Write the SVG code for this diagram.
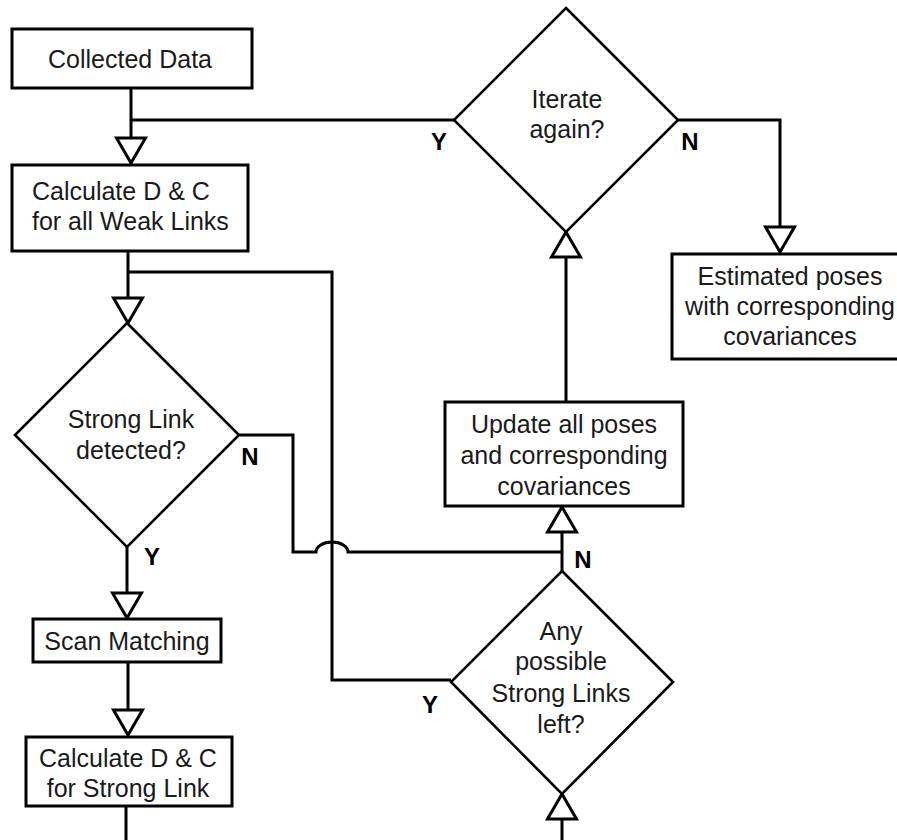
<svg xmlns="http://www.w3.org/2000/svg" width="897" height="840" viewBox="0 0 897 840">
<style>
.box{fill:#fff;stroke:#000;stroke-width:3}
.dia{fill:#fff;stroke:#000;stroke-width:2.6}
.ln{fill:none;stroke:#000;stroke-width:3}
.t{font-family:"Liberation Sans",Arial,sans-serif;font-size:25px;fill:#1a1a1a;text-anchor:middle}
.lb{font-family:"Liberation Sans",Arial,sans-serif;font-size:24px;font-weight:bold;fill:#000;text-anchor:middle}
</style>
<defs>
<marker id="tri" markerUnits="userSpaceOnUse" markerWidth="34" markerHeight="36" refX="27" refY="16" orient="auto" overflow="visible">
<path d="M2,1.5 L27,16 L2,30.5 Z" fill="#fff" stroke="#000" stroke-width="3" stroke-linejoin="miter"/>
</marker>
</defs>
<rect width="897" height="840" fill="#fff"/>
<g id="connectors">
<path class="ln" d="M131,88 V163" marker-end="url(#tri)"/>
<path class="ln" d="M454,120 H131"/>
<path class="ln" d="M678,120 H780 V252" marker-end="url(#tri)"/>
<path class="ln" d="M128,251 V323" marker-end="url(#tri)"/>
<path class="ln" d="M128,272 H332 V680 H451"/>
<path class="ln" d="M239,435 H293 V552 H316 A16 10 0 0 1 348,552 H562"/>
<path class="ln" d="M562,571 V507" marker-end="url(#tri)"/>
<path class="ln" d="M566,402 V232" marker-end="url(#tri)"/>
<path class="ln" d="M127,547 V618" marker-end="url(#tri)"/>
<path class="ln" d="M128,662 V735" marker-end="url(#tri)"/>
<path class="ln" d="M126,806 V842"/>
<path class="ln" d="M562,842 V794" marker-end="url(#tri)"/>
</g>
<g id="collected">
<rect class="box" x="12" y="29" width="240" height="59"/>
<text class="t" x="130" y="68">Collected Data</text>
</g>
<g id="calc-weak">
<rect class="box" x="12" y="165" width="236" height="86"/>
<text class="t" x="32" y="200" style="text-anchor:start">Calculate D &amp; C</text>
<text class="t" x="32" y="230" style="text-anchor:start">for all Weak Links</text>
</g>
<g id="iterate">
<polygon class="dia" points="566,8 678,120 566,232 454,120"/>
<text class="t" x="567" y="108">Iterate</text>
<text class="t" x="567" y="138">again?</text>
<text class="lb" x="439" y="150">Y</text>
<text class="lb" x="690" y="150">N</text>
</g>
<g id="estimated">
<rect class="box" x="672" y="254" width="232" height="105"/>
<text class="t" x="790" y="285">Estimated poses</text>
<text class="t" x="790" y="315">with corresponding</text>
<text class="t" x="790" y="345">covariances</text>
</g>
<g id="strong-detected">
<polygon class="dia" points="127,323 239,435 127,547 15,435"/>
<text class="t" x="131" y="428">Strong Link</text>
<text class="t" x="131" y="459">detected?</text>
<text class="lb" x="250" y="465">N</text>
<text class="lb" x="152" y="565">Y</text>
</g>
<g id="update">
<rect class="box" x="445" y="402" width="238" height="104"/>
<text class="t" x="564" y="433">Update all poses</text>
<text class="t" x="564" y="464">and corresponding</text>
<text class="t" x="564" y="495">covariances</text>
</g>
<g id="any-left">
<polygon class="dia" points="562,571 673,682 562,794 451,682"/>
<text class="t" x="561" y="640">Any</text>
<text class="t" x="561" y="670">possible</text>
<text class="t" x="561" y="702">Strong Links</text>
<text class="t" x="561" y="733">left?</text>
<text class="lb" x="583" y="568">N</text>
<text class="lb" x="430" y="713">Y</text>
</g>
<g id="scan">
<rect class="box" x="33" y="619" width="188" height="43"/>
<text class="t" x="127" y="650">Scan Matching</text>
</g>
<g id="calc-strong">
<rect class="box" x="26" y="737" width="206" height="69"/>
<text class="t" x="128" y="767">Calculate D &amp; C</text>
<text class="t" x="128" y="797">for Strong Link</text>
</g>
</svg>
